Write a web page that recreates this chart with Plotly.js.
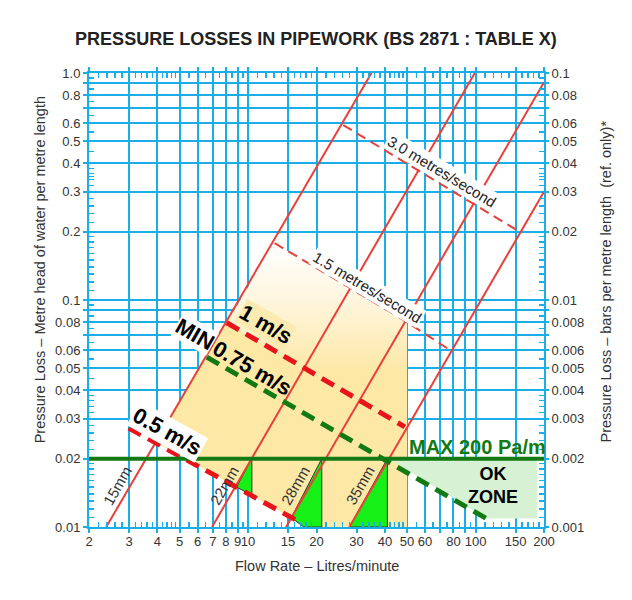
<!DOCTYPE html>
<html>
<head>
<meta charset="utf-8">
<script src="https://cdn.plot.ly/plotly-3.0.1.min.js"></script>
<style>
  html, body { margin: 0; padding: 0; background: #fff; }
  #chart { width: 632px; height: 600px; }
</style>
</head>
<body>
<div id="chart"></div>
<script>
// ---- axis ticks / grid ----
const xTicks = [2, 3, 4, 5, 6, 7, 8, 9, 10, 15, 20, 30, 40, 50, 60, 70, 80, 90, 100, 150, 200];
const xTickText = ["2", "3", "4", "5", "6", "7", "8", "9", "10", "15", "20", "30", "40", "50", "60", "", "80", "", "100", "150", "200"];
const xMinor = [2.2, 2.4, 2.6, 2.8, 3.2, 3.4, 3.6, 3.8, 4.2, 4.4, 4.6, 4.8, 5.5, 6.5, 7.5, 8.5, 9.5,
  11, 12, 13, 14, 16, 17, 18, 19, 22, 24, 26, 28, 32, 34, 36, 38, 42, 44, 46, 48,
  55, 65, 75, 85, 95, 110, 120, 130, 140, 160, 170, 180, 190];
const yTicks = [1, 0.9, 0.8, 0.7, 0.6, 0.5, 0.4, 0.3, 0.2, 0.1, 0.09, 0.08, 0.07, 0.06, 0.05, 0.04, 0.03, 0.02, 0.01];
const yTickText = ["1.0", "", "0.8", "", "0.6", "0.5", "0.4", "0.3", "0.2", "0.1", "", "0.08", "", "0.06", "0.05", "0.04", "0.03", "0.02", "0.01"];
const yMinor = [0.95, 0.85, 0.75, 0.65, 0.55, 0.45, 0.35, 0.32, 0.34, 0.36, 0.38, 0.22, 0.24, 0.26, 0.28,
  0.11, 0.12, 0.13, 0.14, 0.15, 0.16, 0.17, 0.18, 0.19, 0.095, 0.085, 0.075, 0.065, 0.055, 0.045,
  0.032, 0.034, 0.036, 0.038, 0.022, 0.024, 0.026, 0.028,
  0.011, 0.012, 0.013, 0.014, 0.015, 0.016, 0.017, 0.018, 0.019];
const y2Ticks = [0.1, 0.09, 0.08, 0.07, 0.06, 0.05, 0.04, 0.03, 0.02, 0.01, 0.009, 0.008, 0.007, 0.006, 0.005, 0.004, 0.003, 0.002, 0.001];
const y2TickText = ["0.1", "", "0.08", "", "0.06", "0.05", "0.04", "0.03", "0.02", "0.01", "", "0.008", "", "0.006", "0.005", "0.004", "0.003", "0.002", "0.001"];
const y2Minor = yMinor.map((v) => v / 10);

// ---- pipe lines (flow L/min vs head loss m/m) ----
const pipeNames = ["15mm", "22mm", "28mm", "35mm"];
const pipeFlow = [[2.38, 34.9], [6.95, 99.3], [14.7, 200], [27.9, 200]];
const pipeLoss = [[0.01, 1.0], [0.01, 1.0], [0.01, 0.91], [0.01, 0.30]];

// ---- velocity lines ----
const v30Flow = [26.2, 54.1, 94.4, 156];
const v30Loss = [0.59, 0.381, 0.2715, 0.2];
const v15Flow = [13.1, 28.1, 47.8, 77.6];
const v15Loss = [0.178, 0.1126, 0.0822, 0.060];
const v10Flow = [8.07, 48.9];
const v10Loss = [0.0794, 0.0276];
const v075Flow = [6.59, 111.7];
const v075Loss = [0.056, 0.0109];
const v05Flow = [2.99, 16.9];
const v05Loss = [0.0273, 0.0105];

// ---- max loss line ----
const maxFlow = [2, 200];
const maxLoss = [0.02, 0.02];

// ---- shaded zones ----
const yellowLowFlow = [3.91, 8.07, 48.9, 50, 50, 18.0, 16.9, 3.91];
const yellowLowLoss = [0.0236, 0.0794, 0.0276, 0.0276, 0.01, 0.01, 0.0105, 0.0236];
const yellowHighFlow = [8.07, 13.1, 50, 50, 48.9, 8.07];
const yellowHighLoss = [0.0794, 0.178, 0.0787, 0.0276, 0.0276, 0.0794];
const okFlow = [41.7, 187, 187, 111.7, 41.7];
const okLoss = [0.02, 0.02, 0.0109, 0.0109, 0.02];
const tri22Flow = [8.9, 10.4, 10.4, 8.9];
const tri22Loss = [0.015, 0.02, 0.0138, 0.015];
const tri28Flow = [15.5, 21.1, 21.1, 17.6, 15.5];
const tri28Loss = [0.011, 0.02, 0.01, 0.01, 0.011];
const tri35Flow = [27.9, 41.0, 41.0, 27.9];
const tri35Loss = [0.01, 0.02, 0.01, 0.01];

// ---- label anchors ----
const pipeLabelFlow = [2.66, 7.85, 16.1, 31.0];
const pipeLabelLoss = 0.0153;

const GRID = "#1aaee8";
const RED = "#e8403a";
const DARKGREEN = "#137a13";
const YELLOW = "#fde8a6";
const SANS = "'Liberation Sans', Arial, sans-serif";

function poly(x, y, fill, extra) {
  return Object.assign({
    x: x, y: y, type: "scatter", mode: "lines", fill: "toself",
    fillcolor: fill, line: { width: 0 }, hoverinfo: "skip", showlegend: false,
  }, extra || {});
}

function line(x, y, color, width, dash) {
  return {
    x: x, y: y, type: "scatter", mode: "lines",
    line: { color: color, width: width, dash: dash || "solid" },
    hoverinfo: "skip", showlegend: false,
  };
}

const traces = [
  poly(yellowLowFlow, yellowLowLoss, YELLOW),
  poly(yellowHighFlow, yellowHighLoss, YELLOW, {
    fillgradient: {
      type: "vertical",
      colorscale: [[0, YELLOW], [0.3, YELLOW], [0.7, "#fff6e0"], [1, "#ffffff"]],
    },
  }),
  poly(okFlow, okLoss, "#d6f1d3"),
  poly(tri22Flow, tri22Loss, "#16f016", { line: { width: 1, color: "#333" } }),
  poly(tri28Flow, tri28Loss, "#16f016", { line: { width: 1, color: "#333" } }),
  poly(tri35Flow, tri35Loss, "#16f016", { line: { width: 1, color: "#333" } }),
];

pipeNames.forEach((name, i) => {
  traces.push(line(pipeFlow[i], pipeLoss[i], RED, 2));
});

traces.push(line(v30Flow, v30Loss, RED, 2, "10px,6px"));
traces.push(line(v15Flow, v15Loss, RED, 2, "10px,6px"));
traces.push(line(v10Flow, v10Loss, "#e8141a", 5, "14px,8px"));
traces.push(line(v05Flow, v05Loss, "#e8141a", 5, "14px,8px"));
traces.push(line(v075Flow, v075Loss, DARKGREEN, 5, "14px,8px"));
traces.push(line(maxFlow, maxLoss, DARKGREEN, 4));

// dummy trace so the right-hand axis is drawn
traces.push({
  x: [2, 200], y: [0.001, 0.1], yaxis: "y2", type: "scatter", mode: "lines",
  line: { width: 0 }, hoverinfo: "skip", showlegend: false,
});

const L = Math.log10;

function label(text, x, y, angle, opts) {
  return Object.assign({
    text: text, x: L(x), y: L(y), xref: "x", yref: "y", showarrow: false,
    xanchor: "center", yanchor: "middle",
    textangle: angle, font: { family: SANS, size: 22, color: "#000", weight: "bold" },
  }, opts || {});
}

const annotations = [
  label("3.0 metres/second", 71.1, 0.367, 31,
    { font: { family: SANS, size: 15, color: "#222" }, bgcolor: "#fff", borderpad: 1 }),
  label("1.5 metres/second", 33.65, 0.1141, 31,
    { font: { family: SANS, size: 15, color: "#222" }, bgcolor: "#fff", borderpad: 1 }),
  label("1 m/s", 11.9, 0.076, 30, { bgcolor: "#fdeab0", borderpad: 0, xshift: 1, yshift: 3 }),
  label("MIN", 5.8, 0.0694, 30, { bgcolor: "#fff", borderpad: 0, xshift: 1, yshift: 2 }),
  label("0.75 m/s", 10.4, 0.0486, 30, { xshift: 1, yshift: 3 }),
  label("0.5 m/s", 4.37, 0.0259, 29, { bgcolor: "#fff", borderpad: 1, xshift: 1, yshift: 2 }),
  label("MAX 200 Pa/m", 102.3, 0.02247, 0,
    { font: { family: SANS, size: 20, color: DARKGREEN, weight: "bold" } }),
  label("OK<br>ZONE", 119, 0.01528, 0,
    { font: { family: SANS, size: 18, color: "#000", weight: "bold" } }),
];

pipeNames.forEach((name, i) => {
  annotations.push(label(name, pipeLabelFlow[i], pipeLabelLoss, -60,
    { font: { family: SANS, size: 15, color: "#333" } }));
});

const titleFont = { family: SANS, size: 14.5, color: "#333" };
annotations.push({
  text: "Pressure Loss – Metre head of water per metre length",
  xref: "paper", yref: "paper", x: -0.107, y: 0.566, showarrow: false,
  xanchor: "center", yanchor: "middle", textangle: -90, font: titleFont,
});
annotations.push({
  text: "Pressure Loss – bars per metre length&nbsp;&nbsp;(ref. only)*",
  xref: "paper", yref: "paper", x: 1.1355, y: 0.54, showarrow: false,
  xanchor: "center", yanchor: "middle", textangle: -90, font: titleFont,
});
annotations.push({
  text: "Flow Rate – Litres/minute",
  xref: "paper", yref: "paper", x: 0.5, y: -0.085, showarrow: false,
  xanchor: "center", yanchor: "middle", font: titleFont,
});

const tickFont = { family: SANS, size: 13, color: "#333" };

const layout = {
  width: 632,
  height: 600,
  margin: { l: 89, r: 88, t: 73, b: 73 },
  paper_bgcolor: "#fff",
  plot_bgcolor: "#fff",
  showlegend: false,
  title: {
    text: "PRESSURE LOSSES IN PIPEWORK (BS 2871 : TABLE X)",
    x: 0.5, xanchor: "center", y: 0.935, yanchor: "middle",
    font: { family: SANS, size: 18, color: "#222", weight: "bold" },
  },
  xaxis: {
    type: "log",
    range: [L(2), L(200)],
    tickvals: xTicks,
    ticktext: xTickText,
    tickangle: 0,
    tickfont: tickFont,
    ticklabelstandoff: -3,
    showgrid: true,
    gridcolor: GRID,
    gridwidth: 2,
    zeroline: false,
    showline: true,
    linecolor: GRID,
    linewidth: 2,
    mirror: "ticks",
    ticks: "outside",
    ticklen: 4,
    tickcolor: GRID,
    tickwidth: 2,
    minor: { tickvals: xMinor, ticks: "inside", ticklen: 5, tickcolor: GRID, tickwidth: 1.5, showgrid: false },
    fixedrange: true,
  },
  yaxis: {
    type: "log",
    range: [L(0.01), L(1)],
    tickvals: yTicks,
    ticktext: yTickText,
    tickfont: tickFont,
    showgrid: true,
    gridcolor: GRID,
    gridwidth: 2,
    zeroline: false,
    showline: true,
    linecolor: GRID,
    linewidth: 2,
    mirror: true,
    ticks: "outside",
    ticklen: 4,
    tickcolor: GRID,
    tickwidth: 2,
    minor: { tickvals: yMinor, ticks: "inside", ticklen: 5, tickcolor: GRID, tickwidth: 1.5, showgrid: false },
    fixedrange: true,
  },
  yaxis2: {
    type: "log",
    overlaying: "y",
    side: "right",
    range: [L(0.001), L(0.1)],
    tickvals: y2Ticks,
    ticktext: y2TickText,
    tickfont: tickFont,
    showgrid: false,
    zeroline: false,
    ticks: "outside",
    ticklen: 4,
    tickcolor: GRID,
    tickwidth: 2,
    minor: { tickvals: y2Minor, ticks: "inside", ticklen: 5, tickcolor: GRID, tickwidth: 1.5, showgrid: false },
    fixedrange: true,
  },
  annotations: annotations,
};

Plotly.newPlot("chart", traces, layout, { displayModeBar: false, staticPlot: true });
</script>
</body>
</html>
